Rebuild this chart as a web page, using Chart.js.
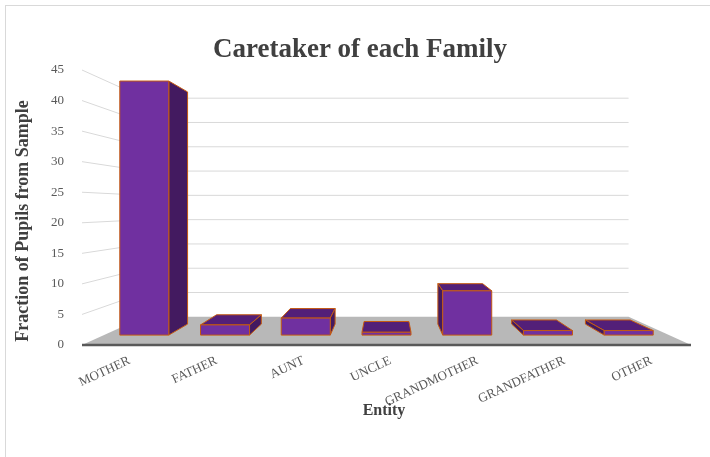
<!DOCTYPE html>
<html>
<head>
<meta charset="utf-8">
<script src="https://cdn.jsdelivr.net/npm/chart.js@4.4.0/dist/chart.umd.min.js"></script>
<style>
html, body { margin: 0; padding: 0; background: #fff; }
#wrap { width: 710px; height: 457px; }
</style>
</head>
<body>
<div id="wrap"><canvas id="chart"></canvas></div>
<script>
const categories = ["MOTHER", "FATHER", "AUNT", "UNCLE", "GRANDMOTHER", "GRANDFATHER", "OTHER"];
const pupilValues = [44.8, 1.8, 3.0, 0.5, 7.8, 0.8, 0.8];
const yTickValues = [0, 5, 10, 15, 20, 25, 30, 35, 40, 45];

const SERIF = "'Liberation Serif', 'Times New Roman', serif";

// depth factors toward the vanishing point (centre of the plot area)
const K_FRONT = 0.928;
const K_BACK = 0.848;
const K_WALL = 0.795;

function project(area, x, y, k) {
    const vx = (area.left + area.right) / 2;
    const vy = (area.top + area.bottom) / 2;
    return [vx + (x - vx) * k, vy + (y - vy) * k];
}

function poly(ctx, pts, fill, stroke) {
    ctx.beginPath();
    ctx.moveTo(pts[0][0], pts[0][1]);
    for (let i = 1; i < pts.length; i++) ctx.lineTo(pts[i][0], pts[i][1]);
    ctx.closePath();
    ctx.fillStyle = fill;
    ctx.fill();
    if (stroke) {
        ctx.strokeStyle = stroke;
        ctx.lineWidth = 1;
        ctx.lineJoin = "round";
        ctx.stroke();
    }
}

// ==================== 3D LOOK ====================
const box3d = {
    id: "box3d",
    beforeDatasetsDraw(chart) {
        const { ctx, chartArea: a, scales: { y } } = chart;
        ctx.save();

        // outer border
        ctx.strokeStyle = "#d9d9d9";
        ctx.lineWidth = 1;
        ctx.strokeRect(5.5, 5.5, 720, 470);

        // side wall + back wall grid lines
        ctx.strokeStyle = "#d9d9d9";
        ctx.lineWidth = 1;
        y.ticks.forEach(t => {
            if (t.value === 0) return;
            const py = y.getPixelForValue(t.value);
            const b = project(a, a.left, py, K_WALL);
            const c = project(a, a.right, py, K_WALL);
            ctx.beginPath();
            ctx.moveTo(a.left, py);
            ctx.lineTo(b[0], b[1]);
            ctx.lineTo(c[0], c[1]);
            ctx.stroke();
        });

        // floor
        const base = y.getPixelForValue(0);
        poly(ctx, [
            [a.left, base], [a.right, base],
            project(a, a.right, base, K_WALL), project(a, a.left, base, K_WALL)
        ], "#b8b8b8");
        ctx.strokeStyle = "#595959";
        ctx.lineWidth = 2.5;
        ctx.beginPath();
        ctx.moveTo(a.left, base);
        ctx.lineTo(a.right, base);
        ctx.stroke();
        ctx.restore();
    },
    afterDatasetsDraw(chart) {
        const { ctx, chartArea: a } = chart;
        const vx = (a.left + a.right) / 2;
        const vy = (a.top + a.bottom) / 2;
        const edge = "#c55a11";
        ctx.save();
        chart.getDatasetMeta(0).data.forEach(el => {
            const xl = el.x - el.width / 2, xr = el.x + el.width / 2;
            const yt = el.y, yb = el.base;
            const f = (x, yy) => project(a, x, yy, K_FRONT);
            const b = (x, yy) => project(a, x, yy, K_BACK);
            if (yt > vy) {
                poly(ctx, [f(xl, yt), f(xr, yt), b(xr, yt), b(xl, yt)], "#531f78", edge);
            }
            if (xr < vx) {
                poly(ctx, [f(xr, yt), b(xr, yt), b(xr, yb), f(xr, yb)], "#431a60", edge);
            } else if (xl > vx) {
                poly(ctx, [f(xl, yt), b(xl, yt), b(xl, yb), f(xl, yb)], "#431a60", edge);
            }
            poly(ctx, [f(xl, yt), f(xr, yt), f(xr, yb), f(xl, yb)], "#7030a0", edge);
        });
        ctx.restore();
    },
    afterDraw(chart) {
        const { ctx } = chart;
        ctx.save();
        ctx.fillStyle = "#404040";
        ctx.textAlign = "center";
        ctx.textBaseline = "alphabetic";
        ctx.font = "bold 27px " + SERIF;
        ctx.fillText("Caretaker of each Family", 360, 57);

        ctx.font = "bold 16px " + SERIF;
        ctx.textBaseline = "middle";
        ctx.fillText("Entity", 384, 411);

        ctx.font = "bold 18px " + SERIF;
        ctx.translate(23, 221);
        ctx.rotate(-Math.PI / 2);
        ctx.fillText("Fraction of Pupils from Sample", 0, 0);
        ctx.restore();
    }
};

// ==================== CHART ====================
new Chart(document.getElementById("chart").getContext("2d"), {
    type: "bar",
    data: {
        labels: categories,
        datasets: [{
            data: pupilValues,
            backgroundColor: "rgba(0,0,0,0)",
            borderWidth: 0,
            categoryPercentage: 1,
            barPercentage: 0.607,
        }],
    },
    options: {
        responsive: true,
        maintainAspectRatio: false,
        animation: false,
        layout: { padding: { top: 70, right: 19, bottom: 0, left: 0 } },
        plugins: {
            legend: { display: false },
            tooltip: { enabled: false },
        },
        scales: {
            x: {
                grid: { display: false },
                border: { display: false },
                ticks: {
                    color: "#595959",
                    font: { family: SERIF, size: 13 },
                    minRotation: 25,
                    maxRotation: 25,
                    padding: 0,
                    labelOffset: 4,
                    autoSkip: false,
                },
                afterFit: s => { s.height = 112; },
            },
            y: {
                min: 0,
                max: 45,
                grid: { display: false },
                border: { display: false },
                afterBuildTicks: s => { s.ticks = yTickValues.map(v => ({ value: v })); },
                ticks: {
                    color: "#595959",
                    font: { family: SERIF, size: 13 },
                    padding: 10,
                },
                afterFit: s => { s.width = 82; },
            },
        },
    },
    plugins: [box3d],
});
</script>
</body>
</html>
